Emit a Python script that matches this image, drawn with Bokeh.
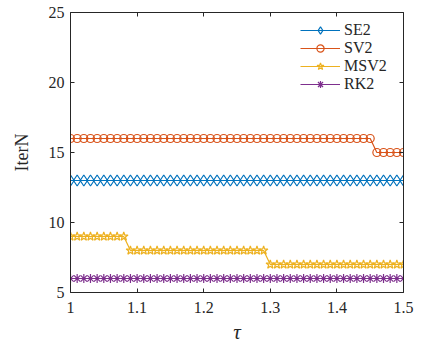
from bokeh.plotting import figure
from bokeh.models import LinearAxis, Range1d, FixedTicker, Legend, LegendItem, CustomJSTickFormatter
from bokeh.embed import file_html
from bokeh.resources import INLINE

tau = [1.00, 1.01, 1.02, 1.03, 1.04, 1.05, 1.06, 1.07, 1.08, 1.09,
       1.10, 1.11, 1.12, 1.13, 1.14, 1.15, 1.16, 1.17, 1.18, 1.19,
       1.20, 1.21, 1.22, 1.23, 1.24, 1.25, 1.26, 1.27, 1.28, 1.29,
       1.30, 1.31, 1.32, 1.33, 1.34, 1.35, 1.36, 1.37, 1.38, 1.39,
       1.40, 1.41, 1.42, 1.43, 1.44, 1.45, 1.46, 1.47, 1.48, 1.49, 1.50]
se2 = [13, 13, 13, 13, 13, 13, 13, 13, 13, 13,
       13, 13, 13, 13, 13, 13, 13, 13, 13, 13,
       13, 13, 13, 13, 13, 13, 13, 13, 13, 13,
       13, 13, 13, 13, 13, 13, 13, 13, 13, 13,
       13, 13, 13, 13, 13, 13, 13, 13, 13, 13, 13]
sv2 = [16, 16, 16, 16, 16, 16, 16, 16, 16, 16,
       16, 16, 16, 16, 16, 16, 16, 16, 16, 16,
       16, 16, 16, 16, 16, 16, 16, 16, 16, 16,
       16, 16, 16, 16, 16, 16, 16, 16, 16, 16,
       16, 16, 16, 16, 16, 16, 15, 15, 15, 15, 15]
msv2 = [9, 9, 9, 9, 9, 9, 9, 9, 9, 8,
        8, 8, 8, 8, 8, 8, 8, 8, 8, 8,
        8, 8, 8, 8, 8, 8, 8, 8, 8, 8,
        7, 7, 7, 7, 7, 7, 7, 7, 7, 7,
        7, 7, 7, 7, 7, 7, 7, 7, 7, 7, 7]
rk2 = [6, 6, 6, 6, 6, 6, 6, 6, 6, 6,
       6, 6, 6, 6, 6, 6, 6, 6, 6, 6,
       6, 6, 6, 6, 6, 6, 6, 6, 6, 6,
       6, 6, 6, 6, 6, 6, 6, 6, 6, 6,
       6, 6, 6, 6, 6, 6, 6, 6, 6, 6, 6]
names = ["SE2", "SV2", "MSV2", "RK2"]
colors = ["#0072BD", "#D95319", "#EDB120", "#7E2F8E"]
markers = ["diamond", "circle", "star", "asterisk"]
marker_sizes = [11, 8, 9, 9]
x_ticks = [1.0, 1.1, 1.2, 1.3, 1.4, 1.5]
y_ticks = [5, 10, 15, 20, 25]

FONT = "Liberation Serif"
AX = "#262626"

p = figure(width=424, height=347, output_backend="svg", toolbar_location=None,
           x_range=Range1d(1.0, 1.5), y_range=Range1d(5, 25),
           min_border_left=70, min_border_right=21, min_border_top=12, min_border_bottom=55)
p.grid.visible = False
p.outline_line_color = None
p.background_fill_color = "white"

for ax in (p.xaxis[0], p.yaxis[0]):
    ax.major_tick_in = 4
    ax.major_tick_out = 0
    ax.minor_tick_line_color = None
    ax.axis_line_color = AX
    ax.major_tick_line_color = AX
    ax.major_label_text_font = FONT
    ax.major_label_text_font_size = "16px"
    ax.major_label_text_color = AX
    ax.axis_label_text_font = FONT
    ax.axis_label_text_font_style = "normal"
    ax.axis_label_text_color = AX

p.xaxis.ticker = FixedTicker(ticks=x_ticks)
p.yaxis.ticker = FixedTicker(ticks=y_ticks)
p.xaxis.major_label_overrides = {1.0: "1", 1.1: "1.1", 1.2: "1.2", 1.3: "1.3", 1.4: "1.4", 1.5: "1.5"}
p.xaxis.axis_label = "τ"
p.xaxis.axis_label_text_font_style = "italic"
p.xaxis.axis_label_text_font_size = "21px"
p.xaxis.axis_label_standoff = 4
p.xaxis.major_label_standoff = 9
p.yaxis.axis_label = "IterN"
p.yaxis.axis_label_text_font_size = "18px"
p.yaxis.axis_label_standoff = 14
p.yaxis.major_label_standoff = 6

blank = CustomJSTickFormatter(code="return ''")
top = LinearAxis(ticker=FixedTicker(ticks=x_ticks), formatter=blank,
                 major_tick_in=4, major_tick_out=0, minor_tick_line_color=None,
                 axis_line_color=AX, major_tick_line_color=AX, major_label_text_font_size="1px")
right = LinearAxis(ticker=FixedTicker(ticks=y_ticks), formatter=blank,
                   major_tick_in=4, major_tick_out=0, minor_tick_line_color=None,
                   axis_line_color=AX, major_tick_line_color=AX, major_label_text_font_size="1px")
p.add_layout(top, "above")
p.add_layout(right, "right")

series = [se2, sv2, msv2, rk2]
items = []
for name, ys, c, m, s in zip(names, series, colors, markers, marker_sizes):
    r1 = p.line(tau, ys, line_color=c, line_width=1.2)
    r2 = p.scatter(tau, ys, marker=m, size=s,
                   line_color=c, fill_color=None, line_width=1.2)
    items.append(LegendItem(label=name, renderers=[r1, r2]))

legend = Legend(items=items, location=(230, 199), border_line_color=None,
                background_fill_alpha=0, glyph_width=40, glyph_height=18,
                label_height=18, label_standoff=4, spacing=0, padding=0, margin=0,
                label_text_font=FONT, label_text_font_size="16px", label_text_color=AX)
p.add_layout(legend, "center")

open("out.html", "w").write(file_html(p, INLINE))
